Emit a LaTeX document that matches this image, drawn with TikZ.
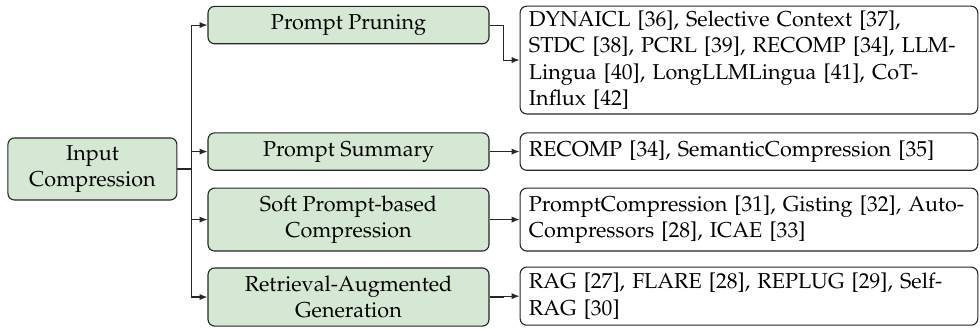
\documentclass[tikz,border=0pt]{standalone}
\usepackage[T1]{fontenc}
\usepackage{mathpazo}
\usetikzlibrary{arrows.meta}
\definecolor{boxgreen}{HTML}{D5E8D4}
\begin{document}
\begin{tikzpicture}[x=1pt,y=1pt,font=\fontsize{9.8}{12}\selectfont,
  rootbox/.style={draw=black!85,fill=boxgreen,rounded corners=3pt,line width=0.5pt,align=center,minimum width=76.8pt,minimum height=28.2pt,inner sep=2pt},
  midbox/.style={draw=black!85,fill=boxgreen,rounded corners=3pt,line width=0.5pt,align=center,minimum width=127.7pt,minimum height=17pt,inner sep=2pt},
  refbox/.style={draw=black!85,fill=white,rounded corners=3pt,line width=0.5pt,align=left,text width=200pt,minimum height=17pt,inner xsep=4pt,inner ysep=2pt},
  arr/.style={draw=black!85,line width=0.5pt,-{Latex[length=3.6pt,width=2.8pt]}}]
 \useasboundingbox (0,0) rectangle (445.4,-149.1);
 % root
 \node[rootbox] (inp) at (42,-76.8) {Input\\Compression};
 % methods
 \node[midbox] (pp) at (158.4,-11.4) {Prompt Pruning};
 \node[midbox] (ps) at (158.4,-68.9) {Prompt Summary};
 \node[midbox,minimum height=28.6pt] (sp) at (158.4,-99.8) {Soft Prompt-based\\Compression};
 \node[midbox,minimum height=26.4pt] (rag) at (158.4,-135) {Retrieval-Augmented\\Generation};
 % references
 \node[refbox,minimum height=49pt] (r1) at (340.4,-27.3) {DYNAICL [36], Selective Context [37],\\STDC [38], PCRL [39], RECOMP [34], LLM-\\Lingua [40], LongLLMLingua [41], CoT-\\Influx [42]};
 \node[refbox] (r2) at (340.4,-68.9) {RECOMP [34], SemanticCompression [35]};
 \node[refbox,minimum height=28.6pt] (r3) at (340.4,-99.8) {PromptCompression [31], Gisting [32], Auto-\\Compressors [28], ICAE [33]};
 \node[refbox,minimum height=26.4pt] (r4) at (340.4,-134.6) {RAG [27], FLARE [28], REPLUG [29], Self-\\RAG [30]};
 % connectors
 \foreach \m in {pp,ps,sp,rag}
  \draw[arr] (inp.east) -- ++(6.4,0) |- (\m.west);
 \draw[arr] (pp.east) -- ++(6.4,0) |- (r1.west);
 \draw[arr] (ps.east) -- ++(6.4,0) |- (r2.west);
 \draw[arr] (sp.east) -- ++(6.4,0) |- (r3.west);
 \draw[arr] (rag.east) -- ++(6.4,0) |- (r4.west);
\end{tikzpicture}
\end{document}
